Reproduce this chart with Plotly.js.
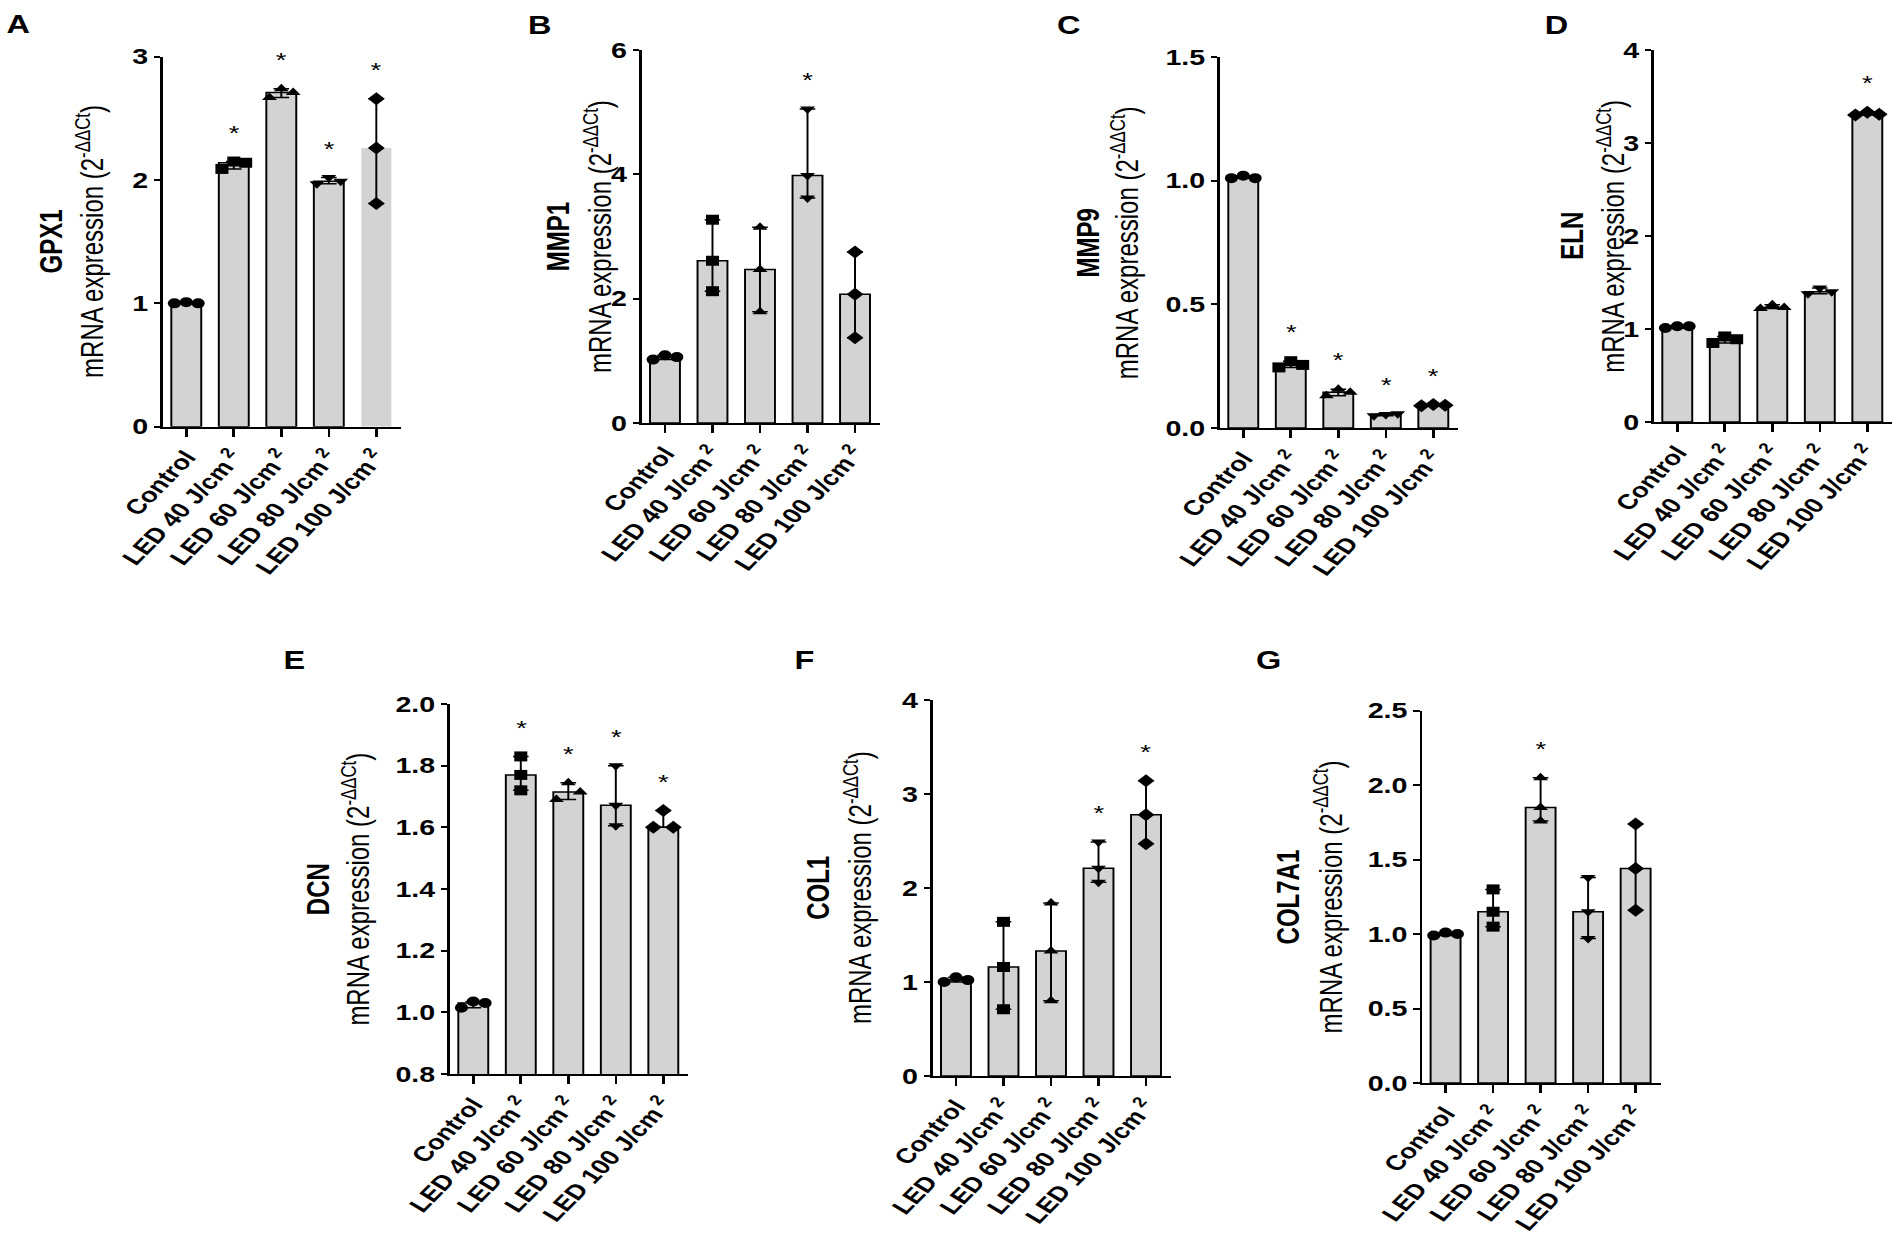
<!DOCTYPE html>
<html>
<head>
<meta charset="utf-8">
<script src="https://cdn.plot.ly/plotly-3.0.1.min.js"></script>
<style>
html,body{margin:0;padding:0;background:#fff;overflow:hidden;width:1901px;height:1235px}
#wrap{width:1462px;height:1235px;transform:scaleX(1.30027);transform-origin:0 0}
</style>
</head>
<body>
<div id="wrap"></div>
<script>
// ---------------- data ----------------
const categories = ["Control", "LED 40 J/cm<sup> 2</sup>", "LED 60 J/cm<sup> 2</sup>", "LED 80 J/cm<sup> 2</sup>", "LED 100 J/cm<sup> 2</sup>"];

// three replicate values per group (2^-ΔΔCt)
const GPX1   = [[1.00, 1.01, 1.00], [2.09, 2.15, 2.14], [2.67, 2.74, 2.71], [1.97, 2.02, 1.99], [2.66, 2.26, 1.81]];
const MMP1   = [[1.02, 1.09, 1.06], [3.27, 2.61, 2.12], [3.15, 2.47, 1.79], [5.05, 3.98, 3.62], [2.75, 2.07, 1.37]];
const MMP9   = [[1.01, 1.02, 1.01], [0.245, 0.27, 0.255], [0.13, 0.157, 0.145], [0.05, 0.055, 0.058], [0.09, 0.095, 0.092]];
const ELN    = [[1.01, 1.03, 1.03], [0.85, 0.92, 0.89], [1.22, 1.26, 1.23], [1.38, 1.44, 1.40], [3.30, 3.33, 3.31]];
const DCN    = [[1.015, 1.035, 1.03], [1.83, 1.77, 1.72], [1.69, 1.745, 1.715], [1.80, 1.672, 1.605], [1.60, 1.655, 1.60]];
const COL1   = [[1.00, 1.05, 1.02], [1.64, 1.16, 0.71], [1.84, 1.33, 0.80], [2.49, 2.21, 2.06], [3.14, 2.78, 2.47]];
const COL7A1 = [[0.99, 1.01, 1.00], [1.30, 1.15, 1.05], [2.05, 1.85, 1.76], [1.38, 1.15, 0.97], [1.74, 1.44, 1.16]];

// significance marks (*) per group
const GPX1_sig   = [0, 1, 1, 1, 1];
const MMP1_sig   = [0, 0, 0, 1, 0];
const MMP9_sig   = [0, 1, 1, 1, 1];
const ELN_sig    = [0, 0, 0, 0, 1];
const DCN_sig    = [0, 1, 1, 1, 1];
const COL1_sig   = [0, 0, 0, 1, 1];
const COL7A1_sig = [0, 0, 1, 0, 0];

// y-axis tick settings
const GPX1_ticks   = {range: [0, 3],   dtick: 1,   fmt: ""};
const MMP1_ticks   = {range: [0, 6],   dtick: 2,   fmt: ""};
const MMP9_ticks   = {range: [0, 1.5], dtick: 0.5, fmt: ".1f"};
const ELN_ticks    = {range: [0, 4],   dtick: 1,   fmt: ""};
const DCN_ticks    = {range: [0.8, 2], dtick: 0.2, fmt: ".1f"};
const COL1_ticks   = {range: [0, 4],   dtick: 1,   fmt: ""};
const COL7A1_ticks = {range: [0, 2.5], dtick: 0.5, fmt: ".1f"};

const UNIT_LINE = "mRNA expression (2<sup>-ΔΔCt</sup>)";

// ---------------- layout / style config ----------------
const PW = 1901, PH = 1235;          // visible page size
const W = 1462, H = 1235;            // plot size before the figure's horizontal stretch
const FONT = "Liberation Sans, Arial, Helvetica, sans-serif";
const FILL = "#d3d3d3";
const SYMBOLS = ["circle", "square", "triangle-up", "triangle-down", "diamond"];
const OL = 1.5;

// boxes: [left, top, right, bottom] in page pixels; tx = centres of the two y-title lines
const panels = [
  {letter: "A", gene: "GPX1",   pts: GPX1,   sig: GPX1_sig,   t: GPX1_ticks,   box: [163, 56.7, 401.5, 426.7],  lpos: [18.7, 24],   tx: [51.7, 90],       outline: [OL, OL, OL, OL, 0]},
  {letter: "B", gene: "MMP1",   pts: MMP1,   sig: MMP1_sig,   t: MMP1_ticks,   box: [641.7, 50, 880.2, 423],    lpos: [540, 25],    tx: [557.5, 597.5],   outline: [OL, OL, OL, OL, OL]},
  {letter: "C", gene: "MMP9",   pts: MMP9,   sig: MMP9_sig,   t: MMP9_ticks,   box: [1220, 56.9, 1458.5, 428],  lpos: [1069, 25],   tx: [1088.3, 1125.8], outline: [OL, OL, OL, OL, OL]},
  {letter: "D", gene: "ELN",    pts: ELN,    sig: ELN_sig,    t: ELN_ticks,    box: [1654, 50, 1892.5, 422],    lpos: [1556, 25],   tx: [1571.7, 1610.8], outline: [OL, OL, OL, OL, OL]},
  {letter: "E", gene: "DCN",    pts: DCN,    sig: DCN_sig,    t: DCN_ticks,    box: [450, 704, 688.5, 1074],    lpos: [294, 659.5], tx: [317.5, 355.8],   outline: [OL, OL, OL, OL, OL]},
  {letter: "F", gene: "COL1",   pts: COL1,   sig: COL1_sig,   t: COL1_ticks,   box: [932.7, 700, 1171.2, 1076], lpos: [804, 659.5], tx: [819, 858.3],     outline: [OL, OL, OL, OL, OL]},
  {letter: "G", gene: "COL7A1", pts: COL7A1, sig: COL7A1_sig, t: COL7A1_ticks, box: [1422.3, 710.7, 1660.8, 1083], lpos: [1268, 659.5], tx: [1288, 1328.3], outline: [OL, OL, OL, OL, OL]}
];

// ---------------- helpers ----------------
function median(a) { const s = a.slice().sort((p, q) => p - q); return s[Math.floor(s.length / 2)]; }
function spread(g, span) {
  // spread overlapping replicate points side by side (column scatter)
  const thr = 0.035 * span;
  const idx = g.map((v, k) => k).sort((a, b) => g[a] - g[b]);
  const off = g.map(() => 0);
  const groups = [[idx[0]]];
  for (let q = 1; q < idx.length; q++) {
    if (g[idx[q]] - g[idx[q - 1]] < thr) groups[groups.length - 1].push(idx[q]);
    else groups.push([idx[q]]);
  }
  groups.forEach(gr => {
    if (gr.length < 2) return;
    gr.sort((a, b) => a - b);
    const step = gr.length === 2 ? 0.42 : 0.25;
    gr.forEach((k, m) => { off[k] = (m - (gr.length - 1) / 2) * step; });
  });
  return off;
}
function ticksOf(t) {
  const v = []; const n = Math.round((t.range[1] - t.range[0]) / t.dtick);
  for (let i = 0; i <= n; i++) v.push(+(t.range[0] + i * t.dtick).toFixed(4));
  return v;
}

const layout = {
  width: W, height: H,
  margin: {l: 0, r: 0, t: 0, b: 0, pad: 0},
  showlegend: false,
  paper_bgcolor: "#ffffff", plot_bgcolor: "rgba(0,0,0,0)",
  font: {family: FONT, color: "#000"},
  annotations: []
};
const traces = [];
const xIdx = categories.map((c, i) => i);

panels.forEach((p, i) => {
  const n = i + 1, sfx = n > 1 ? String(n) : "";
  const xa = "x" + sfx, ya = "y" + sfx;
  const [L, T, R, B] = p.box;
  const r0 = p.t.range[0], r1 = p.t.range[1], span = r1 - r0;
  const d0 = 1 - B / PH, d1 = 1 - T / PH;

  layout["xaxis" + sfx] = {
    domain: [L / PW, R / PW], anchor: ya, range: [-0.49, 4.53],
    tickvals: xIdx, ticktext: categories, tickangle: -52.4,
    tickfont: {family: FONT, size: 21, weight: 700, color: "#000"},
    showline: true, linewidth: 2, linecolor: "#000",
    ticks: "outside", ticklen: 8, tickwidth: 2, tickcolor: "#000",
    showgrid: false, zeroline: false, fixedrange: true
  };
  layout["yaxis" + sfx] = {
    domain: [d0, d1], anchor: xa, range: p.t.range,
    tickvals: ticksOf(p.t), tickformat: p.t.fmt,
    tickfont: {family: FONT, size: 22, weight: 700, color: "#000"},
    showline: true, linewidth: 2, linecolor: "#000",
    ticks: "outside", ticklen: 5, tickwidth: 2, tickcolor: "#000",
    showgrid: false, zeroline: false, fixedrange: true
  };

  const med = p.pts.map(median);
  const mx = p.pts.map(g => Math.max(...g));
  const mn = p.pts.map(g => Math.min(...g));

  traces.push({
    type: "bar", name: p.gene, x: xIdx, y: med, xaxis: xa, yaxis: ya, width: 0.63,
    marker: {color: FILL, line: {color: "#000", width: p.outline}},
    error_y: {type: "data", symmetric: false,
      array: med.map((m, j) => mx[j] - m), arrayminus: med.map((m, j) => m - mn[j]),
      color: "#000", thickness: 1.5, width: 6},
    showlegend: false, hoverinfo: "skip"
  });

  const xs = [], ys = [], sy = [];
  p.pts.forEach((g, j) => {
    const off = spread(g, span);
    g.forEach((v, k) => { xs.push(j + off[k]); ys.push(v); sy.push(SYMBOLS[j]); });
  });
  traces.push({
    type: "scatter", name: p.gene, mode: "markers", x: xs, y: ys, xaxis: xa, yaxis: ya,
    marker: {symbol: sy, size: 10, color: "#000", line: {width: 0}},
    cliponaxis: false, showlegend: false, hoverinfo: "skip"
  });

  // significance stars: a fixed fraction of the axis span above the highest point
  p.sig.forEach((s, j) => {
    if (!s) return;
    const yv = mx[j] + 0.095 * span;
    layout.annotations.push({
      xref: xa, yref: "paper", x: j, y: d0 + (yv - r0) / span * (d1 - d0), text: "*",
      showarrow: false, font: {family: FONT, size: 21, color: "#000"},
      xanchor: "center", yanchor: "middle", yshift: -6
    });
  });

  // panel letter
  layout.annotations.push({
    xref: "paper", yref: "paper", x: p.lpos[0] / PW, y: 1 - p.lpos[1] / PH,
    text: p.letter, showarrow: false,
    font: {family: FONT, size: 25, weight: 700, color: "#000"}, xanchor: "center", yanchor: "middle"
  });
  // y-axis title: gene name (bold) and unit line, vertical
  const yc = 1 - ((T + B) / 2) / PH;
  layout.annotations.push({
    xref: "paper", yref: "paper", x: p.tx[0] / PW, y: yc, textangle: -90,
    text: p.gene, showarrow: false,
    font: {family: FONT, size: 24, weight: 700, color: "#000"}, xanchor: "center", yanchor: "middle"
  });
  layout.annotations.push({
    xref: "paper", yref: "paper", x: p.tx[1] / PW, y: yc, textangle: -90,
    text: UNIT_LINE, showarrow: false,
    font: {family: FONT, size: 24, color: "#000"}, xanchor: "center", yanchor: "middle"
  });
});

Plotly.newPlot("wrap", traces, layout, {staticPlot: true, displayModeBar: false});
</script>
</body>
</html>
